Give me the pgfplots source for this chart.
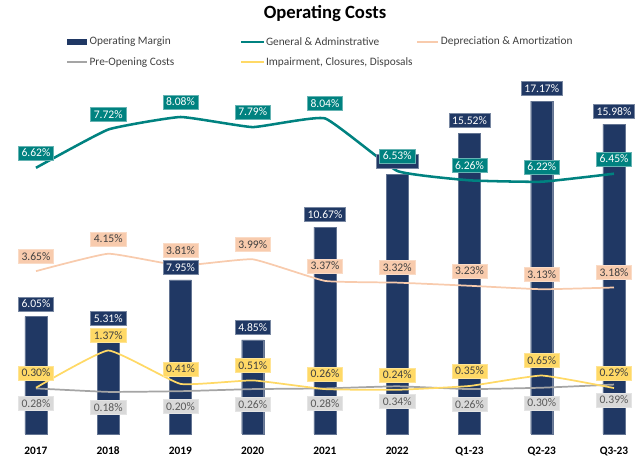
\documentclass[border=0pt]{standalone}
\usepackage{pgfplots}
\pgfplotsset{compat=1.18}
\usepackage{fontspec}
\setmainfont{Carlito}
\definecolor{navy}{RGB}{32,56,100}
\definecolor{teal2}{RGB}{0,130,128}
\definecolor{peach}{RGB}{248,203,173}
\definecolor{grayl}{RGB}{165,165,165}
\definecolor{grayf}{RGB}{217,217,217}
\definecolor{yel}{RGB}{255,217,102}
\definecolor{txtd}{RGB}{64,64,64}
\definecolor{txtg}{RGB}{89,89,89}
\tikzset{
  lblbox/.style n args={4}{anchor=center, yshift=#1, fill=#2, text=#3, draw=#4, line width=0.4pt,
      font=\fontsize{8.7}{10}\selectfont, inner xsep=2.4pt, inner ysep=1.8pt, text height=6.3pt, text depth=0.6pt},
}
\pgfplotsset{
  base/.style={scale only axis, width=480pt, height=261.75pt,
    xmin=-0.498, xmax=8.36, at={(0,0)}, anchor=south west, clip=false},
  barax/.style={base, ymin=0, ymax=18},
  lineax/.style={base, ymin=-1.03, ymax=9.0},
  lbl/.style n args={4}{draw=none, mark=none,
    nodes near coords={\pgfmathprintnumber[fixed,fixed zerofill,precision=2,assume math mode=true]{\pgfplotspointmeta}\%},
    every node near coord/.append style={lblbox={#1}{#2}{#3}{#4}}},
}
\begin{document}
\begin{tikzpicture}
% bars
\begin{axis}[barax, ybar, bar width=16.5pt,
  axis line style={draw=none}, tick style={draw=none}, ytick=\empty,
  xtick={0,...,8},
  xticklabels={\textbf{2017},\textbf{2018},\textbf{2019},\textbf{2020},\textbf{2021},\textbf{2022},\textbf{Q1-23},\textbf{Q2-23},\textbf{Q3-23}},
  xticklabel style={font=\fontsize{8.5}{10}\selectfont\bfseries, text=black, yshift=-2pt}]
\addplot[fill=navy, draw=navy!70!white, line width=0.3pt] coordinates {(0,6.05) (1,5.31) (2,7.95) (3,4.85) (4,10.67) (5,13.40) (6,15.52) (7,17.17) (8,15.98)};
\end{axis}
% lines
\begin{axis}[lineax, hide axis]
\addplot[color=teal2, line width=1.9pt, smooth, tension=0.22] coordinates {(0,6.62) (1,7.72) (2,8.08) (3,7.79) (4,8.04) (5,6.53) (6,6.26) (7,6.22) (8,6.45)};
\addplot[color=peach, line width=1.3pt, smooth, tension=0.22] coordinates {(0,3.65) (1,4.15) (2,3.81) (3,3.99) (4,3.37) (5,3.32) (6,3.23) (7,3.13) (8,3.18)};
\addplot[color=grayl, line width=1.3pt, smooth, tension=0.22] coordinates {(0,0.28) (1,0.18) (2,0.20) (3,0.26) (4,0.28) (5,0.34) (6,0.26) (7,0.30) (8,0.39)};
\addplot[color=yel, line width=1.3pt, smooth, tension=0.22] coordinates {(0,0.30) (1,1.37) (2,0.41) (3,0.51) (4,0.26) (5,0.24) (6,0.35) (7,0.65) (8,0.29)};
\end{axis}
% bar labels
\begin{axis}[barax, hide axis]
\addplot[lbl={9.4pt}{navy}{white}{navy!60!white}] coordinates {(0,6.05) (1,5.31) (2,7.95) (3,4.85) (4,10.67) (6,15.52) (7,17.17) (8,15.98)};
% the 2022 bar label is hidden behind the G&A label in the reference
\addplot[draw=none, mark=none, nodes near coords={\phantom{13.40\%}},
  every node near coord/.append style={lblbox={9.4pt}{navy}{white}{navy!60!white}}] coordinates {(5,13.40)};
\end{axis}
% line labels
\begin{axis}[lineax, hide axis]
\addplot[lbl={11.2pt}{teal2}{white}{teal2!60!white}] coordinates {(0,6.62) (1,7.72) (2,8.08) (3,7.79) (4,8.04) (5,6.53) (6,6.26) (7,6.22) (8,6.45)};
\addplot[lbl={11.2pt}{peach}{txtd}{peach!70!white}] coordinates {(0,3.65) (1,4.15) (2,3.81) (3,3.99) (4,3.37) (5,3.32) (6,3.23) (7,3.13) (8,3.18)};
\addplot[lbl={-11.5pt}{grayf}{txtg}{grayf!70!white}] coordinates {(0,0.28) (1,0.18) (2,0.20) (3,0.26) (4,0.28) (5,0.34) (6,0.26) (7,0.30) (8,0.39)};
\addplot[lbl={11.2pt}{yel}{txtd}{yel!70!white}] coordinates {(0,0.30) (1,1.37) (2,0.41) (3,0.51) (4,0.26) (5,0.24) (6,0.35) (7,0.65) (8,0.29)};
\end{axis}
% title and legend
\node[font=\fontsize{14}{16}\selectfont\bfseries, inner sep=0pt] at (243.75pt,315.4pt) {Operating Costs};
\begin{scope}[every node/.style={font=\fontsize{8.5}{10}\selectfont, anchor=west, inner sep=0pt, text=txtd}]
\fill[navy] (50.25pt,292pt) rectangle (65.25pt,296.5pt);
\node at (67pt,294.2pt) {Operating Margin};
\draw[teal2, line width=1.6pt] (180.75pt,294.2pt) -- (198pt,294.2pt);
\node at (199.3pt,294.2pt) {General \& Adminstrative};
\draw[peach, line width=1.6pt] (312.75pt,294.2pt) -- (328.5pt,294.2pt);
\node at (330.5pt,294.2pt) {Depreciation \& Amortization};
\draw[grayl, line width=1.6pt] (50.25pt,278.8pt) -- (65.25pt,278.8pt);
\node at (67pt,278.8pt) {Pre-Opening Costs};
\draw[yel, line width=1.6pt] (180.75pt,278.8pt) -- (198pt,278.8pt);
\node at (199.3pt,278.8pt) {Impairment, Closures, Disposals};
\end{scope}
\path[use as bounding box] (0,-16.5pt) rectangle (480pt,325.5pt);
\end{tikzpicture}
\end{document}
